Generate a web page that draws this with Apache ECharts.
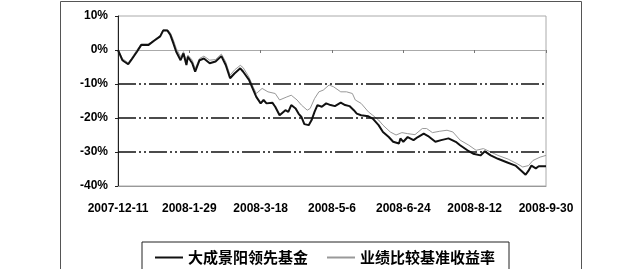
<!DOCTYPE html>
<html>
<head>
<meta charset="utf-8">
<script src="https://cdn.jsdelivr.net/npm/echarts@6/dist/echarts.min.js"></script>
<style>
  html, body { margin: 0; padding: 0; background: #fff; }
  #chart { width: 635px; height: 269px; }
</style>
</head>
<body>
<div id="chart"></div>
<script>
// x 轴刻度标签（每 49 天一个）
const xTickLabels = ['2007-12-11', '2008-1-29', '2008-3-18', '2008-5-6', '2008-6-24', '2008-8-12', '2008-9-30'];
const tickStep = 49;
const yTickValues = [-40, -30, -20, -10, 0, 10];
const dashLines = [-10, -20, -30];

const seriesNames = ['大成景阳领先基金', '业绩比较基准收益率'];

// 基金净值增长率 (天数, %)
const fundDays = [0, 3, 7, 9, 13, 16, 21, 25, 29, 31, 34, 36, 38, 40, 43, 45, 47, 48, 51, 53,
  56, 59, 63, 67, 71, 74, 77, 80, 84, 86, 90, 93, 95, 98, 100, 102, 106, 108, 111, 115,
  117, 119, 122, 124, 126, 128, 131, 133, 135, 137, 140, 143, 146, 149, 153, 156, 159, 162, 164, 167,
  172, 175, 179, 182, 186, 189, 193, 194, 196, 199, 203, 206, 210, 213, 218, 222, 227, 232, 235, 240,
  244, 249, 252, 256, 261, 267, 273, 277, 280, 282, 284, 287, 289, 294];
const fundReturns = [0, -3, -4.2, -3, -0.5, 1.5, 1.5, 2.8, 4, 5.7, 5.7, 4.4, 2, -0.5, -3, -1, -4.4, -2, -3.9, -6.4,
  -3, -2.5, -3.9, -3.4, -1.8, -4.4, -8.3, -6.9, -5.4, -6.4, -8.8, -11.8, -13.8, -15.7, -14.7, -15.7, -15.5, -16.7, -19.2, -17.7,
  -18.2, -16.2, -17.2, -18.7, -19.7, -21.8, -22.1, -20.6, -18.2, -16.2, -16.7, -15.7, -16.2, -16.5, -15.5, -16.2, -16.5, -17.7, -18.7, -19.2,
  -19.5, -20.2, -22.1, -24.1, -25.6, -27, -27.5, -26, -27, -25.6, -26.5, -25.6, -24.6, -25.3, -27, -26.5, -26, -27, -28, -29.5,
  -30.5, -31, -29.8, -31, -32, -33, -34, -35.5, -36.7, -35.5, -34, -34.8, -34.2, -34.2];

// 业绩比较基准收益率 (天数, %)
const benchDays = [0, 3, 7, 9, 13, 16, 21, 25, 29, 31, 34, 36, 38, 40, 43, 45, 47, 48, 51, 53,
  56, 59, 63, 67, 71, 74, 77, 80, 84, 86, 90, 93, 95, 99, 103, 108, 111, 116, 119, 123,
  126, 130, 132, 135, 138, 141, 145, 148, 153, 157, 161, 163, 167, 172, 175, 179, 182, 187, 191, 195,
  199, 204, 209, 212, 216, 221, 226, 230, 235, 241, 246, 251, 256, 261, 268, 274, 278, 282, 285, 290, 294];
const benchReturns = [0, -2.5, -3.8, -2.6, 0, 1.8, 1.8, 3, 4.3, 6, 5.9, 5, 3, 0.5, -2, -0.5, -3.5, -1.5, -3, -5.5,
  -2.5, -1.8, -3, -2.8, -1.2, -3.5, -7.4, -5.9, -4.5, -5.2, -8, -11, -12.8, -11.3, -12.3, -12.8, -14.7, -13.8, -13.3, -14.7,
  -16.2, -17.7, -17.2, -14.3, -12.3, -11.8, -10.3, -10.8, -12.3, -12.3, -12.8, -14.7, -15.7, -18.2, -19.2, -20.6, -22.1, -24.1, -25, -24.3,
  -24.6, -24.9, -23.1, -23.1, -24.3, -23.9, -23.6, -24.1, -26.5, -28, -29.5, -29, -30, -31, -32.1, -33.4, -34.4, -34, -32.5, -31.5, -31];

const colors = ['#111', '#999'];

const chart = echarts.init(document.getElementById('chart'));

const axisFont = { fontSize: 12, fontWeight: 'bold', color: '#000', fontFamily: 'Liberation Sans, Arial, sans-serif' };
const xMax = tickStep * (xTickLabels.length - 1);

chart.setOption({
  backgroundColor: '#fff',
  animation: false,
  graphic: [{
    type: 'rect',
    shape: { x: 60.5, y: 1.5, width: 521, height: 290 },
    style: { fill: null, stroke: '#555', lineWidth: 1 },
    silent: true
  }],
  grid: {
    left: 118, right: 89, top: 16, bottom: 83,
    show: true, borderColor: '#aaa', borderWidth: 1
  },
  legend: {
    left: 142, top: 242,
    padding: [8, 14, 20, 13],
    borderColor: '#222', borderWidth: 1,
    itemWidth: 28, itemHeight: 2, itemGap: 19,
    icon: 'rect',
    textStyle: { fontSize: 15, fontWeight: 'bold', color: '#000', fontFamily: 'Noto Sans CJK SC' },
    data: seriesNames.map((n, i) => ({ name: n, itemStyle: { color: colors[i] } }))
  },
  xAxis: [{
    // 0% 处的横轴线，带刻度
    type: 'value', min: 0, max: xMax, interval: tickStep,
    axisLine: { onZero: true, lineStyle: { color: '#aaa', width: 1 } },
    axisTick: { show: true, length: 3, lineStyle: { color: '#777' } },
    axisLabel: { show: false },
    splitLine: { show: false }
  }, {
    type: 'value', min: 0, max: xMax, interval: tickStep, position: 'bottom',
    axisLine: { onZero: false, lineStyle: { color: '#999', width: 1 } },
    axisTick: { show: false },
    axisLabel: Object.assign({ margin: 17, formatter: v => xTickLabels[Math.round(v / tickStep)] }, axisFont),
    splitLine: { show: false }
  }],
  yAxis: {
    type: 'value', min: yTickValues[0], max: yTickValues[yTickValues.length - 1], interval: 10,
    axisLine: { show: true, lineStyle: { color: '#222', width: 1 } },
    axisTick: { show: true, length: 3, lineStyle: { color: '#222' } },
    axisLabel: Object.assign({ margin: 10, formatter: v => v + '%' }, axisFont),
    splitLine: { show: false }
  },
  series: [{
    name: seriesNames[0],
    type: 'line',
    xAxisIndex: 0,
    symbol: 'none',
    data: fundDays.map((d, i) => [d, fundReturns[i]]),
    lineStyle: { color: colors[0], width: 2 },
    itemStyle: { color: colors[0] },
    z: 3,
    markLine: {
      silent: true, symbol: 'none', label: { show: false },
      lineStyle: { color: '#111', width: 1.5, type: [18, 3, 2, 3, 2, 3] },
      data: dashLines.map(v => ({ yAxis: v }))
    }
  }, {
    name: seriesNames[1],
    type: 'line',
    xAxisIndex: 0,
    symbol: 'none',
    data: benchDays.map((d, i) => [d, benchReturns[i]]),
    lineStyle: { color: colors[1], width: 1 },
    itemStyle: { color: colors[1] },
    z: 2
  }]
});
</script>
</body>
</html>
